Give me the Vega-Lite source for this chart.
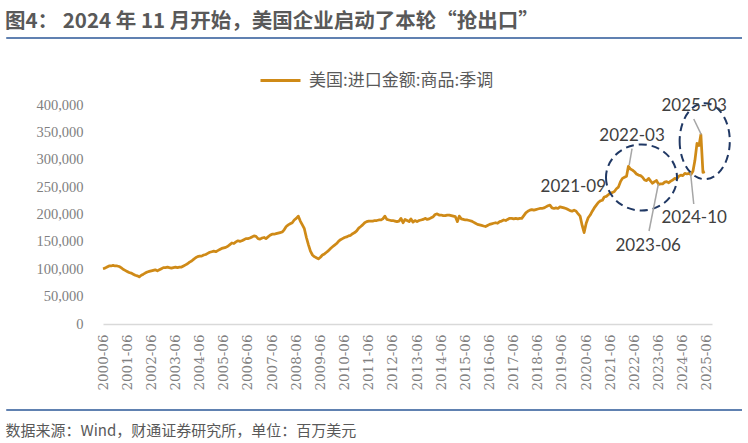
{
"$schema": "https://vega.github.io/schema/vega-lite/v6.json",
"width": 609, "height": 219,
"autosize": {"type": "none"},
"padding": {"left": 103, "top": 105, "right": 36, "bottom": 119},
"background": "white",
"config": {"view": {"stroke": null}, "font": "Noto Sans CJK SC"},
"title": {"text": "图4：  2024 年 11 月开始，美国企业启动了本轮“抢出口”", "anchor": "start", "frame": "group", "dx": -98, "dy": -5, "offset": 0, "font": "Noto Sans CJK SC", "fontSize": 20.5, "fontWeight": "bold", "color": "#595959"},
"encoding": {
 "x": {"field": "d", "type": "temporal",
  "scale": {"type": "utc", "domain": [{"year":2000,"month":6,"date":1,"utc":true},{"year":2025,"month":8,"date":16,"utc":true}]},
  "axis": {"values": [
   {"year":2000,"month":6,"date":1,"utc":true},{"year":2001,"month":6,"date":1,"utc":true},{"year":2002,"month":6,"date":1,"utc":true},{"year":2003,"month":6,"date":1,"utc":true},{"year":2004,"month":6,"date":1,"utc":true},{"year":2005,"month":6,"date":1,"utc":true},{"year":2006,"month":6,"date":1,"utc":true},{"year":2007,"month":6,"date":1,"utc":true},{"year":2008,"month":6,"date":1,"utc":true},{"year":2009,"month":6,"date":1,"utc":true},{"year":2010,"month":6,"date":1,"utc":true},{"year":2011,"month":6,"date":1,"utc":true},{"year":2012,"month":6,"date":1,"utc":true},{"year":2013,"month":6,"date":1,"utc":true},{"year":2014,"month":6,"date":1,"utc":true},{"year":2015,"month":6,"date":1,"utc":true},{"year":2016,"month":6,"date":1,"utc":true},{"year":2017,"month":6,"date":1,"utc":true},{"year":2018,"month":6,"date":1,"utc":true},{"year":2019,"month":6,"date":1,"utc":true},{"year":2020,"month":6,"date":1,"utc":true},{"year":2021,"month":6,"date":1,"utc":true},{"year":2022,"month":6,"date":1,"utc":true},{"year":2023,"month":6,"date":1,"utc":true},{"year":2024,"month":6,"date":1,"utc":true},{"year":2025,"month":6,"date":1,"utc":true}],
   "format": "%Y-%m", "labelAngle": 270, "labelFont": "DejaVu Serif", "labelFontSize": 13.5, "labelColor": "#808080", "labelPadding": 10, "labelOverlap": false, "labelFlush": false,
   "ticks": false, "tickSize": 0, "grid": false, "domainColor": "#d9d9d9", "domainWidth": 1.5,
   "title": "数据来源：Wind，财通证券研究所，单位：百万美元", "titleX": -98, "titleY": 106, "titleAlign": "left", "titleAnchor": "start", "titleBaseline": "middle", "titleFont": "Noto Sans CJK SC", "titleFontSize": 15, "titleFontWeight": "normal", "titleColor": "#595959"}},
 "y": {"field": "v", "type": "quantitative", "scale": {"domain": [0, 400000], "nice": false},
  "axis": {"values": [0,50000,100000,150000,200000,250000,300000,350000,400000], "format": ",d", "labelFont": "Liberation Serif", "labelFontSize": 14.5, "labelColor": "#808080", "labelPadding": 20, "ticks": false, "tickSize": 0, "domain": false, "grid": false, "title": null}}
},
"layer": [
{"data": {"values": [
{"d":"2000-06","v":101000},{"d":"2000-07","v":102000},{"d":"2000-08","v":104000},{"d":"2000-09","v":106000},{"d":"2000-10","v":106000},{"d":"2000-11","v":107000},{"d":"2000-12","v":106000},
{"d":"2001-01","v":106000},{"d":"2001-02","v":105000},{"d":"2001-03","v":103000},{"d":"2001-04","v":100000},{"d":"2001-05","v":98000},{"d":"2001-06","v":96000},{"d":"2001-07","v":94000},{"d":"2001-08","v":93000},{"d":"2001-09","v":91000},{"d":"2001-10","v":89000},{"d":"2001-11","v":88000},{"d":"2001-12","v":86000},
{"d":"2002-01","v":89000},{"d":"2002-02","v":91000},{"d":"2002-03","v":93000},{"d":"2002-04","v":95000},{"d":"2002-05","v":96000},{"d":"2002-06","v":97000},{"d":"2002-07","v":98000},{"d":"2002-08","v":99000},{"d":"2002-09","v":97000},{"d":"2002-10","v":99000},{"d":"2002-11","v":101000},{"d":"2002-12","v":103000},
{"d":"2003-01","v":103000},{"d":"2003-02","v":104000},{"d":"2003-03","v":103000},{"d":"2003-04","v":102000},{"d":"2003-05","v":103000},{"d":"2003-06","v":104000},{"d":"2003-07","v":103000},{"d":"2003-08","v":104000},{"d":"2003-09","v":104000},{"d":"2003-10","v":106000},{"d":"2003-11","v":108000},{"d":"2003-12","v":110000},
{"d":"2004-01","v":113000},{"d":"2004-02","v":115000},{"d":"2004-03","v":118000},{"d":"2004-04","v":121000},{"d":"2004-05","v":123000},{"d":"2004-06","v":124000},{"d":"2004-07","v":124000},{"d":"2004-08","v":126000},{"d":"2004-09","v":127000},{"d":"2004-10","v":129000},{"d":"2004-11","v":131000},{"d":"2004-12","v":132000},
{"d":"2005-01","v":133000},{"d":"2005-02","v":132000},{"d":"2005-03","v":134000},{"d":"2005-04","v":136000},{"d":"2005-05","v":138000},{"d":"2005-06","v":139000},{"d":"2005-07","v":140000},{"d":"2005-08","v":142000},{"d":"2005-09","v":145000},{"d":"2005-10","v":148000},{"d":"2005-11","v":147000},{"d":"2005-12","v":150000},
{"d":"2006-01","v":152000},{"d":"2006-02","v":151000},{"d":"2006-03","v":152000},{"d":"2006-04","v":154000},{"d":"2006-05","v":156000},{"d":"2006-06","v":156000},{"d":"2006-07","v":157000},{"d":"2006-08","v":159000},{"d":"2006-09","v":161000},{"d":"2006-10","v":160000},{"d":"2006-11","v":156000},{"d":"2006-12","v":155000},
{"d":"2007-01","v":157000},{"d":"2007-02","v":158000},{"d":"2007-03","v":156000},{"d":"2007-04","v":159000},{"d":"2007-05","v":162000},{"d":"2007-06","v":164000},{"d":"2007-07","v":164000},{"d":"2007-08","v":165000},{"d":"2007-09","v":166000},{"d":"2007-10","v":167000},{"d":"2007-11","v":168000},{"d":"2007-12","v":172000},
{"d":"2008-01","v":178000},{"d":"2008-02","v":181000},{"d":"2008-03","v":183000},{"d":"2008-04","v":185000},{"d":"2008-05","v":190000},{"d":"2008-06","v":193000},{"d":"2008-07","v":197000},{"d":"2008-08","v":188000},{"d":"2008-09","v":181000},{"d":"2008-10","v":174000},{"d":"2008-11","v":158000},{"d":"2008-12","v":145000},
{"d":"2009-01","v":133000},{"d":"2009-02","v":126000},{"d":"2009-03","v":123000},{"d":"2009-04","v":121000},{"d":"2009-05","v":119000},{"d":"2009-06","v":122000},{"d":"2009-07","v":126000},{"d":"2009-08","v":128000},{"d":"2009-09","v":131000},{"d":"2009-10","v":134000},{"d":"2009-11","v":138000},{"d":"2009-12","v":141000},
{"d":"2010-01","v":144000},{"d":"2010-02","v":147000},{"d":"2010-03","v":151000},{"d":"2010-04","v":154000},{"d":"2010-05","v":156000},{"d":"2010-06","v":158000},{"d":"2010-07","v":159000},{"d":"2010-08","v":161000},{"d":"2010-09","v":162000},{"d":"2010-10","v":165000},{"d":"2010-11","v":167000},{"d":"2010-12","v":170000},
{"d":"2011-01","v":175000},{"d":"2011-02","v":178000},{"d":"2011-03","v":181000},{"d":"2011-04","v":185000},{"d":"2011-05","v":187000},{"d":"2011-06","v":188000},{"d":"2011-07","v":188000},{"d":"2011-08","v":188000},{"d":"2011-09","v":189000},{"d":"2011-10","v":189000},{"d":"2011-11","v":190000},{"d":"2011-12","v":190000},
{"d":"2012-01","v":192000},{"d":"2012-02","v":197000},{"d":"2012-03","v":191000},{"d":"2012-04","v":190000},{"d":"2012-05","v":189000},{"d":"2012-06","v":189000},{"d":"2012-07","v":188000},{"d":"2012-08","v":187000},{"d":"2012-09","v":188000},{"d":"2012-10","v":193000},{"d":"2012-11","v":185000},{"d":"2012-12","v":191000},
{"d":"2013-01","v":189000},{"d":"2013-02","v":187000},{"d":"2013-03","v":192000},{"d":"2013-04","v":186000},{"d":"2013-05","v":189000},{"d":"2013-06","v":187000},{"d":"2013-07","v":189000},{"d":"2013-08","v":190000},{"d":"2013-09","v":191000},{"d":"2013-10","v":193000},{"d":"2013-11","v":191000},{"d":"2013-12","v":192000},
{"d":"2014-01","v":194000},{"d":"2014-02","v":196000},{"d":"2014-03","v":200000},{"d":"2014-04","v":201000},{"d":"2014-05","v":199000},{"d":"2014-06","v":199000},{"d":"2014-07","v":198000},{"d":"2014-08","v":198000},{"d":"2014-09","v":199000},{"d":"2014-10","v":199000},{"d":"2014-11","v":198000},{"d":"2014-12","v":197000},
{"d":"2015-01","v":196000},{"d":"2015-02","v":187000},{"d":"2015-03","v":197000},{"d":"2015-04","v":192000},{"d":"2015-05","v":191000},{"d":"2015-06","v":190000},{"d":"2015-07","v":190000},{"d":"2015-08","v":189000},{"d":"2015-09","v":188000},{"d":"2015-10","v":186000},{"d":"2015-11","v":184000},{"d":"2015-12","v":182000},
{"d":"2016-01","v":181000},{"d":"2016-02","v":180000},{"d":"2016-03","v":179000},{"d":"2016-04","v":178000},{"d":"2016-05","v":180000},{"d":"2016-06","v":182000},{"d":"2016-07","v":183000},{"d":"2016-08","v":184000},{"d":"2016-09","v":185000},{"d":"2016-10","v":184000},{"d":"2016-11","v":187000},{"d":"2016-12","v":188000},
{"d":"2017-01","v":190000},{"d":"2017-02","v":189000},{"d":"2017-03","v":191000},{"d":"2017-04","v":193000},{"d":"2017-05","v":193000},{"d":"2017-06","v":192000},{"d":"2017-07","v":193000},{"d":"2017-08","v":192000},{"d":"2017-09","v":193000},{"d":"2017-10","v":193000},{"d":"2017-11","v":198000},{"d":"2017-12","v":203000},
{"d":"2018-01","v":206000},{"d":"2018-02","v":208000},{"d":"2018-03","v":209000},{"d":"2018-04","v":208000},{"d":"2018-05","v":209000},{"d":"2018-06","v":210000},{"d":"2018-07","v":211000},{"d":"2018-08","v":211000},{"d":"2018-09","v":212000},{"d":"2018-10","v":214000},{"d":"2018-11","v":216000},{"d":"2018-12","v":217000},
{"d":"2019-01","v":212000},{"d":"2019-02","v":211000},{"d":"2019-03","v":212000},{"d":"2019-04","v":211000},{"d":"2019-05","v":214000},{"d":"2019-06","v":213000},{"d":"2019-07","v":212000},{"d":"2019-08","v":211000},{"d":"2019-09","v":209000},{"d":"2019-10","v":207000},{"d":"2019-11","v":206000},{"d":"2019-12","v":208000},
{"d":"2020-01","v":206000},{"d":"2020-02","v":201000},{"d":"2020-03","v":197000},{"d":"2020-04","v":180000},{"d":"2020-05","v":167000},{"d":"2020-06","v":184000},{"d":"2020-07","v":194000},{"d":"2020-08","v":199000},{"d":"2020-09","v":206000},{"d":"2020-10","v":212000},{"d":"2020-11","v":217000},{"d":"2020-12","v":222000},
{"d":"2021-01","v":225000},{"d":"2021-02","v":226000},{"d":"2021-03","v":232000},{"d":"2021-04","v":233000},{"d":"2021-05","v":236000},{"d":"2021-06","v":239000},{"d":"2021-07","v":240000},{"d":"2021-08","v":242000},{"d":"2021-09","v":247000},{"d":"2021-10","v":250000},{"d":"2021-11","v":260000},{"d":"2021-12","v":266000},
{"d":"2022-01","v":268000},{"d":"2022-02","v":270000},{"d":"2022-03","v":288000},{"d":"2022-04","v":283000},{"d":"2022-05","v":281000},{"d":"2022-06","v":278000},{"d":"2022-07","v":274000},{"d":"2022-08","v":272000},{"d":"2022-09","v":271000},{"d":"2022-10","v":268000},{"d":"2022-11","v":263000},{"d":"2022-12","v":262000},
{"d":"2023-01","v":266000},{"d":"2023-02","v":261000},{"d":"2023-03","v":257000},{"d":"2023-04","v":260000},{"d":"2023-05","v":262000},{"d":"2023-06","v":255000},{"d":"2023-07","v":256000},{"d":"2023-08","v":256000},{"d":"2023-09","v":259000},{"d":"2023-10","v":260000},{"d":"2023-11","v":258000},{"d":"2023-12","v":261000},
{"d":"2024-01","v":263000},{"d":"2024-02","v":266000},{"d":"2024-03","v":265000},{"d":"2024-04","v":270000},{"d":"2024-05","v":272000},{"d":"2024-06","v":271000},{"d":"2024-07","v":275000},{"d":"2024-08","v":274000},{"d":"2024-09","v":275000},{"d":"2024-10","v":273000},{"d":"2024-11","v":279000},{"d":"2024-12","v":299000},
{"d":"2025-01","v":330000},{"d":"2025-02","v":326000},{"d":"2025-03","v":346000},{"d":"2025-04","v":277000},{"d":"2025-05","v":278000}
], "format": {"parse": {"d": "utc:'%Y-%m'"}}},
"mark": {"type": "line", "strokeWidth": 2.75, "strokeJoin": "round"},
"encoding": {
 "color": {"datum": "美国:进口金额:商品:季调", "type": "nominal", "scale": {"range": ["#cf8a17"]},
  "legend": {"orient": "none", "legendX": 156, "legendY": -46, "direction": "horizontal", "title": null, "padding": 0, "symbolType": "stroke", "symbolSize": 1600, "symbolStrokeWidth": 3, "labelFont": "Noto Sans CJK SC", "labelFontSize": 17, "labelColor": "#595959", "labelOffset": 7, "labelLimit": 400}}
}},
{"data": {"values": [{"d":"2022-09-15","v":267600}], "format": {"parse": {"d": "utc:'%Y-%m-%d'"}}},
 "mark": {"type": "point", "filled": false, "stroke": "#203864", "strokeWidth": 2, "strokeDash": [8, 5], "opacity": 1, "size": 5041, "shape": "M-1,0A1,0.93,0,1,0,1,0A1,0.93,0,1,0,-1,0Z"}},
{"data": {"values": [{"d":"2025-04-28","v":334000}], "format": {"parse": {"d": "utc:'%Y-%m-%d'"}}},
 "mark": {"type": "point", "filled": false, "stroke": "#203864", "strokeWidth": 2, "strokeDash": [8, 5], "opacity": 1, "size": 5776, "shape": "M-0.66,0A0.66,1,0,1,0,0.66,0A0.66,1,0,1,0,-0.66,0Z"}},
{"data": {"values": [
  {"d":"2022-04-25","v":320200,"d2":"2022-03-13","v2":290400},
  {"d":"2023-01-07","v":169900,"d2":"2023-05-28","v2":255700},
  {"d":"2024-11-13","v":219200,"d2":"2024-09-25","v2":276700},
  {"d":"2024-11-13","v":374400,"d2":"2025-03-07","v2":345900}
 ], "format": {"parse": {"d": "utc:'%Y-%m-%d'", "d2": "utc:'%Y-%m-%d'"}}},
 "mark": {"type": "rule", "color": "#a6a6a6", "strokeWidth": 1.5},
 "encoding": {"x2": {"field": "d2"}, "y2": {"field": "v2"}}},
{"data": {"values": [
  {"d":"2019-11-19","v":250800,"t":"2021-09"},
  {"d":"2022-04-25","v":343400,"t":"2022-03"},
  {"d":"2022-12-25","v":142800,"t":"2023-06"},
  {"d":"2024-11-19","v":193600,"t":"2024-10"},
  {"d":"2024-11-19","v":397300,"t":"2025-03"}
 ], "format": {"parse": {"d": "utc:'%Y-%m-%d'"}}},
 "mark": {"type": "text", "font": "Lato", "fontSize": 17, "color": "#404040", "align": "center", "baseline": "middle"},
 "encoding": {"text": {"field": "t"}}},
{"data": {"values": [{"d":"1996-05-30","d2":"2026-11-13","v":522400},{"d":"1996-05-30","d2":"2026-11-13","v":-157100}], "format": {"parse": {"d": "utc:'%Y-%m-%d'", "d2": "utc:'%Y-%m-%d'"}}},
 "mark": {"type": "rule", "color": "#2b5797", "strokeWidth": 1.5},
 "encoding": {"x2": {"field": "d2"}}}
]
}
